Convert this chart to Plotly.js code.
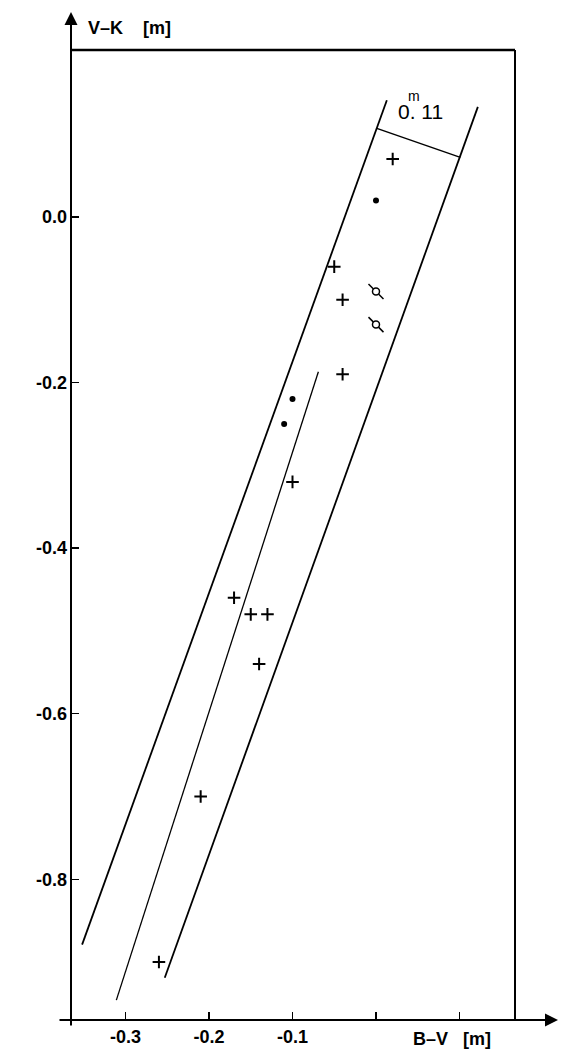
<!DOCTYPE html>
<html>
<head>
<meta charset="utf-8">
<script src="https://cdn.plot.ly/plotly-3.0.1.min.js"></script>
<style>html,body{margin:0;padding:0;background:#fff;}#chart{width:570px;height:1060px;}</style>
</head>
<body>
<div id="chart"></div>
<script>
// ---- data ----
const plusX = [0.02, -0.05, -0.04, -0.04, -0.10, -0.17, -0.15, -0.13, -0.14, -0.21, -0.26];
const plusY = [0.07, -0.06, -0.10, -0.19, -0.32, -0.46, -0.48, -0.48, -0.54, -0.70, -0.90];
const dotX = [0.00, -0.10, -0.11];
const dotY = [0.02, -0.22, -0.25];
const ringX = [0.00, 0.00];
const ringY = [-0.09, -0.13];
// band borders, central line and width bar
const bandLeftX = [-0.352, 0.013];
const bandLeftY = [-0.879, 0.141];
const bandRightX = [-0.253, 0.122];
const bandRightY = [-0.919, 0.133];
const midX = [-0.311, -0.069];
const midY = [-0.946, -0.187];
const barX = [0.001, 0.101];
const barY = [0.107, 0.072];
const xTickVals = [-0.3, -0.2, -0.1, 0.0, 0.1];
const xTickText = ['-0.3', '-0.2', '-0.1', ' ', ' '];
const yTickVals = [0.0, -0.2, -0.4, -0.6, -0.8];
const yTickText = ['0.0', '-0.2', '-0.4', '-0.6', '-0.8'];
const bandLabel = '0. 11';
const bandLabelSup = 'm';
const xLabel = 'B\u2013V   [m]';
const yLabel = 'V\u2013K    [m]';

const FONT = 'Liberation Sans, Arial, sans-serif';
const lineTrace = (x, y, w) => ({x, y, type: 'scatter', mode: 'lines', line: {color: '#000', width: w}, hoverinfo: 'skip', showlegend: false, cliponaxis: false});

const traces = [
  lineTrace(bandLeftX, bandLeftY, 1.8),
  lineTrace(bandRightX, bandRightY, 1.8),
  lineTrace(midX, midY, 1.3),
  lineTrace(barX, barY, 1.5),
  {x: plusX, y: plusY, type: 'scatter', mode: 'markers', showlegend: false,
   marker: {symbol: 'cross-thin-open', size: 9, color: '#000', line: {color: '#000', width: 2}}},
  {x: dotX, y: dotY, type: 'scatter', mode: 'markers', showlegend: false,
   marker: {symbol: 'circle', size: 6, color: '#000'}},
  {x: ringX, y: ringY, type: 'scatter', mode: 'markers', showlegend: false,
   marker: {symbol: 'line-nw-open', size: 15, color: '#000', line: {color: '#000', width: 1.5}}},
  {x: ringX, y: ringY, type: 'scatter', mode: 'markers', showlegend: false,
   marker: {symbol: 'circle', size: 7, color: '#fff', line: {color: '#000', width: 1.5}}}
];

const layout = {
  width: 570, height: 1060,
  margin: {l: 71, r: 55, t: 50, b: 40},
  paper_bgcolor: '#fff', plot_bgcolor: '#fff',
  showlegend: false,
  font: {family: FONT, color: '#000'},
  xaxis: {
    range: [-0.3653, 0.1665], showgrid: false, zeroline: false, showline: false,
    tickmode: 'array', tickvals: xTickVals, ticktext: xTickText,
    ticks: 'inside', ticklen: 8, tickwidth: 1.5, tickcolor: '#000',
    ticklabelstandoff: 4,
    tickfont: {family: FONT, size: 18, color: '#000', weight: 'bold'}
  },
  yaxis: {
    range: [-0.970, 0.2017], showgrid: false, zeroline: false, showline: false,
    tickmode: 'array', tickvals: yTickVals, ticktext: yTickText,
    ticks: 'inside', ticklen: 8, tickwidth: 1.5, tickcolor: '#000',
    ticklabelstandoff: 3,
    tickfont: {family: FONT, size: 18, color: '#000', weight: 'bold'}
  },
  shapes: [
    // top frame
    {type: 'line', xref: 'paper', yref: 'paper', x0: 0, x1: 1, y0: 1, y1: 1, line: {color: '#000', width: 2.5}},
    // right frame
    {type: 'line', xref: 'paper', yref: 'paper', x0: 1, x1: 1, y0: 0, y1: 1, line: {color: '#000', width: 2}}
  ],
  annotations: [
    // x axis with arrow
    {xref: 'paper', yref: 'paper', x: (558 - 71) / 444, y: 0, ax: -500, ay: 0, axref: 'pixel', ayref: 'pixel',
     showarrow: true, arrowhead: 2, arrowsize: 1.3, arrowwidth: 2, arrowcolor: '#000', text: ''},
    // y axis with arrow
    {xref: 'paper', yref: 'paper', x: 0, y: (1020 - 12) / 970, ax: 0, ay: 1015, axref: 'pixel', ayref: 'pixel',
     showarrow: true, arrowhead: 2, arrowsize: 1.3, arrowwidth: 2, arrowcolor: '#000', text: ''},
    {xref: 'paper', yref: 'paper', x: (86 - 71) / 444, y: (1020 - 28) / 970, xanchor: 'left', yanchor: 'middle',
     showarrow: false, text: yLabel, font: {family: FONT, size: 18, color: '#000', weight: 'bold'}},
    {xref: 'paper', yref: 'paper', x: (411 - 71) / 444, y: (1020 - 1039) / 970, xanchor: 'left', yanchor: 'middle',
     showarrow: false, text: xLabel, font: {family: FONT, size: 18, color: '#000', weight: 'bold'}},
    {xref: 'x', yref: 'y', x: 0.024, y: 0.128, xanchor: 'left', yanchor: 'middle',
     showarrow: false, text: bandLabel, font: {family: FONT, size: 21, color: '#000'}},
    {xref: 'x', yref: 'y', x: 0.046, y: 0.146, xanchor: 'center', yanchor: 'middle',
     showarrow: false, text: bandLabelSup, font: {family: FONT, size: 14, color: '#000'}}
  ]
};

Plotly.newPlot('chart', traces, layout, {displayModeBar: false, staticPlot: true});
</script>
</body>
</html>
